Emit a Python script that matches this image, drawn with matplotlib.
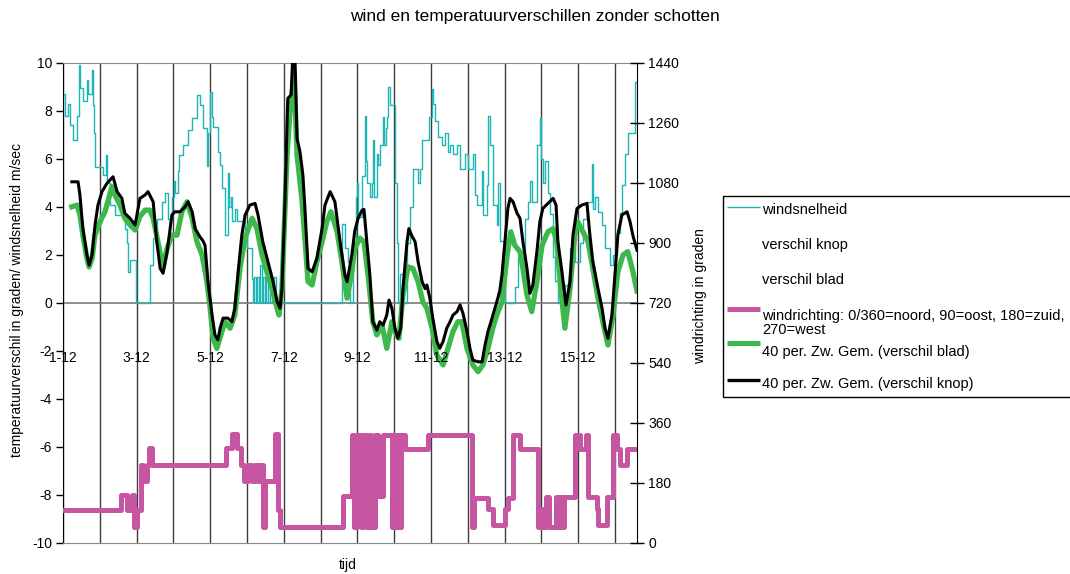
import matplotlib
matplotlib.use('Agg')
import matplotlib.pyplot as plt
from matplotlib.patches import Rectangle

plt.rcParams['font.family'] = ['Liberation Sans', 'DejaVu Sans']
plt.rcParams['axes.unicode_minus'] = False

# time in days since 1-12 00:00
wind_t = [0.00, 0.05, 0.14, 0.19, 0.27, 0.38, 0.43, 0.46, 0.54, 0.65, 0.68, 0.79, 0.82, 0.84, 0.87,
          1.09, 1.17, 1.20, 1.28, 1.41, 1.68, 1.74, 1.77, 1.82, 1.98, 2.36, 2.45, 2.55, 2.69, 2.77,
          2.85, 2.96, 3.02, 3.04, 3.13, 3.15, 3.26, 3.40, 3.51, 3.64, 3.72, 3.80, 3.91, 3.94, 3.99,
          4.05, 4.08, 4.21, 4.27, 4.32, 4.40, 4.48, 4.51, 4.57, 4.59, 4.67, 4.73, 4.95, 5.00, 5.14,
          5.16, 5.19, 5.24, 5.27, 5.33, 5.35, 5.41, 5.43, 5.49, 5.52, 5.57, 5.63, 5.68, 5.73, 5.79,
          7.58, 7.66, 7.74, 7.80, 7.88, 7.96, 7.99, 8.02, 8.12, 8.21, 8.23, 8.26, 8.34, 8.40, 8.42,
          8.45, 8.53, 8.56, 8.61, 8.70, 8.72, 8.78, 8.80, 8.83, 8.89, 9.02, 9.08, 9.10, 9.16, 9.24,
          9.35, 9.43, 9.51, 9.65, 9.70, 9.76, 9.95, 10.03, 10.05, 10.11, 10.19, 10.30, 10.38, 10.46,
          10.52, 10.60, 10.71, 10.79, 10.92, 11.01, 11.14, 11.20, 11.25, 11.39, 11.41, 11.52, 11.55,
          11.60, 11.68, 11.79, 11.82, 11.87, 12.01, 12.28, 12.36, 12.55, 12.64, 12.69, 12.74, 12.88,
          12.96, 12.99, 13.04, 13.10, 13.18, 13.23, 13.32, 13.37, 13.45, 13.64, 13.78, 13.91, 14.05,
          14.13, 14.24, 14.38, 14.40, 14.46, 14.54, 14.65, 14.73, 14.86, 14.95, 15.05, 15.14, 15.19,
          15.27, 15.35, 15.46, 15.54, 15.60]
wind_speed = [8.7, 7.8, 8.3, 7.4, 6.8, 7.8, 9.9, 8.95, 8.4, 9.3, 8.7, 9.7, 8.25, 7.1, 5.67,
              5.33, 6.17, 5.0, 4.08, 3.67, 3.1, 2.5, 1.3, 1.8, 0.0, 1.6, 2.7, 3.5, 4.2, 4.6,
              3.5, 4.4, 5.1, 4.6, 5.5, 6.17, 6.6, 7.2, 7.7, 8.67, 8.25, 7.3, 5.7, 7.1, 8.8,
              7.75, 7.33, 6.3, 5.75, 4.8, 2.83, 5.4, 4.0, 4.4, 3.4, 3.9, 3.4, 2.8, 2.3, 1.0,
              0.0, 1.1, 0.0, 1.1, 0.0, 1.6, 0.0, 1.1, 0.0, 1.1, 0.0, 1.1, 0.0, 1.1, 0.0,
              3.3, 2.3, 1.7, 0.0, 2.5, 4.4, 5.0, 3.6, 5.3, 7.8, 5.9, 5.0, 4.4, 5.0, 6.8,
              4.4, 6.2, 5.75, 6.6, 7.75, 6.6, 7.3, 7.75, 9.0, 8.25, 5.0, 2.5, 0.0, 1.2, 0.0,
              2.5, 4.0, 5.6, 5.0, 5.6, 6.8, 7.75, 8.9, 8.3, 7.6, 6.9, 6.6, 7.1, 6.3,
              6.6, 6.2, 6.6, 5.6, 6.2, 5.6, 6.2, 4.5, 4.1, 5.5, 3.67, 4.9, 7.8,
              6.6, 4.1, 3.25, 5.0, 2.6, 0.0, 0.67, 1.9, 3.5, 4.2, 5.1, 4.2, 6.6,
              7.7, 6.0, 5.0, 5.9, 4.6, 3.7, 1.9, 0.9, 0.0, 0.75, 2.3, 1.7, 2.5,
              3.5, 4.2, 5.8, 3.9, 4.4, 3.8, 3.25, 2.3, 1.6, 2.0, 2.9, 3.75, 4.9,
              6.2, 7.1, 7.1, 9.2, 9.2]

dir_t = [0.00, 1.58, 1.74, 1.88, 1.93, 2.01, 2.12, 2.17, 2.28, 2.34, 2.42, 4.43, 4.59, 4.73,
         4.84, 4.92, 5.03, 5.14, 5.22, 5.30, 5.35, 5.43, 5.49, 5.76, 5.84, 5.90, 7.61, 7.85,
         7.91, 7.99, 8.10, 8.15, 8.23, 8.32, 8.37, 8.48, 8.56, 8.70, 8.94, 8.99, 9.05, 9.10,
         9.16, 9.18, 9.29, 9.92, 11.11, 11.17, 11.55, 11.68, 12.01, 12.09, 12.23, 12.42, 12.91,
         12.99, 13.04, 13.13, 13.21, 13.40, 13.45, 13.51, 13.56, 13.61, 13.91, 14.05, 14.21,
         14.27, 14.51, 14.54, 14.78, 14.95, 15.05, 15.14, 15.33, 15.60]
wind_dir = [100, 144, 100, 144, 48, 100, 234, 186, 234, 285, 234, 285, 327, 285,
            234, 186, 234, 186, 234, 186, 234, 48, 186, 327, 100, 48, 141, 324,
            48, 324, 48, 324, 48, 324, 48, 324, 141, 324, 48, 324, 48, 324,
            48, 324, 282, 324, 48, 135, 102, 54, 102, 135, 324, 282, 48,
            102, 48, 138, 48, 138, 48, 138, 48, 138, 324, 282, 324,
            138, 102, 54, 138, 324, 282, 234, 282, 282]

knop_t = [0.24, 0.41, 0.46, 0.54, 0.65, 0.71, 0.79, 0.87, 0.95, 1.06, 1.20, 1.36, 1.47, 1.60,
          1.68, 1.82, 1.96, 2.09, 2.23, 2.31, 2.45, 2.55, 2.64, 2.72, 2.83, 2.96, 3.04, 3.18,
          3.32, 3.40, 3.51, 3.59, 3.72, 3.80, 3.86, 3.94, 4.05, 4.13, 4.21, 4.27, 4.35, 4.48,
          4.59, 4.67, 4.76, 4.86, 4.95, 5.08, 5.22, 5.30, 5.43, 5.57, 5.71, 5.82, 5.90, 5.95,
          6.03, 6.09, 6.11, 6.20, 6.25, 6.30, 6.36, 6.44, 6.52, 6.58, 6.66, 6.77, 6.90, 7.04,
          7.12, 7.26, 7.39, 7.53, 7.66, 7.72, 7.85, 7.93, 8.02, 8.13, 8.18, 8.26, 8.34, 8.42,
          8.53, 8.61, 8.70, 8.80, 8.86, 8.94, 9.02, 9.10, 9.18, 9.24, 9.35, 9.40, 9.48, 9.57,
          9.65, 9.76, 9.84, 9.89, 9.97, 10.05, 10.16, 10.24, 10.33, 10.43, 10.52, 10.60, 10.71,
          10.79, 10.87, 10.98, 11.06, 11.14, 11.28, 11.39, 11.47, 11.55, 11.66, 11.79, 11.87,
          11.93, 12.01, 12.09, 12.15, 12.23, 12.34, 12.42, 12.50, 12.61, 12.69, 12.77, 12.88,
          12.96, 13.04, 13.18, 13.32, 13.40, 13.45, 13.56, 13.67, 13.78, 13.86, 13.97, 14.10,
          14.24, 14.32, 14.40, 14.54, 14.65, 14.73, 14.81, 14.92, 15.00, 15.08, 15.19, 15.33,
          15.41, 15.49, 15.60]
knop_avg = [5.05, 5.05, 4.5, 3.1, 2.0, 1.58, 2.0, 3.25, 4.08, 4.64, 5.0, 5.26, 4.64, 4.36,
            3.74, 3.53, 3.25, 4.36, 4.5, 4.64, 4.22, 2.55, 1.44, 1.24, 2.14, 3.67, 3.8, 3.8,
            4.01, 4.22, 3.8, 3.1, 2.76, 2.6, 2.4, 0.89, -0.5, -1.33, -1.54, -1.05, -0.63, -0.63,
            -0.78, -0.22, 1.3, 2.83, 3.67, 4.08, 4.15, 3.67, 2.55, 1.72, 0.89, 0.05, -0.22, 0.6,
            4.08, 7.55, 8.53, 8.67, 10.5, 10.5, 6.86, 6.3, 5.33, 3.8, 1.44, 1.3, 1.86, 3.1,
            4.08, 4.64, 4.22, 2.55, 1.17, 0.89, 2.0, 3.0, 3.53, 3.87, 3.9, 2.5, 1.17, -0.78,
            -1.13, -0.78, -0.92, -0.5, 0.12, -0.22, -1.05, -1.47, -1.05, 0.6, 2.55, 3.1, 2.8, 2.55,
            1.72, 0.89, 0.6, 0.75, 0.2, -0.63, -1.6, -1.89, -1.6, -1.05, -0.78, -0.5, -0.36,
            -0.08, -0.43, -1.19, -1.89, -2.38, -2.45, -2.45, -1.75, -1.19, -0.63, 0.05, 0.5,
            1.17, 2.55, 3.94, 4.36, 4.22, 3.74, 3.53, 2.55, 1.44, 0.4, 0.75, 2.14,
            3.39, 3.94, 4.15, 4.36, 4.08, 2.55, 1.3, -0.08, 0.89, 2.83, 3.94, 4.08,
            4.15, 2.83, 1.72, 0.6, -0.22, -1.05, -1.47, -0.5, 1.17, 2.83, 3.67, 3.8,
            3.39, 2.8, 2.2]

blad_t = [0.24, 0.38, 0.46, 0.54, 0.65, 0.71, 0.79, 0.87, 1.01, 1.14, 1.33, 1.41, 1.55, 1.68,
          1.82, 1.96, 2.09, 2.23, 2.36, 2.45, 2.58, 2.72, 2.83, 2.96, 3.10, 3.23, 3.37, 3.51,
          3.64, 3.78, 3.91, 3.99, 4.08, 4.18, 4.32, 4.40, 4.54, 4.67, 4.81, 4.95, 5.14, 5.27,
          5.41, 5.54, 5.68, 5.82, 5.87, 5.95, 6.09, 6.17, 6.22, 6.28, 6.36, 6.49, 6.58, 6.66,
          6.77, 6.90, 7.04, 7.17, 7.28, 7.45, 7.58, 7.72, 7.85, 7.93, 8.07, 8.18, 8.29, 8.42,
          8.53, 8.67, 8.80, 8.94, 9.02, 9.13, 9.24, 9.38, 9.51, 9.65, 9.78, 9.89, 10.03, 10.16,
          10.33, 10.46, 10.60, 10.73, 10.84, 10.98, 11.14, 11.28, 11.41, 11.55, 11.68, 11.79,
          11.93, 12.07, 12.17, 12.28, 12.42, 12.50, 12.61, 12.74, 12.88, 13.02, 13.18, 13.32,
          13.42, 13.51, 13.64, 13.78, 13.91, 13.99, 14.13, 14.27, 14.40, 14.54, 14.67, 14.81,
          14.95, 15.08, 15.22, 15.35, 15.49, 15.60]
blad_avg = [4.01, 4.08, 3.67, 2.83, 1.86, 1.5, 1.86, 2.83, 3.39, 3.8, 4.85, 4.5, 4.08, 3.53,
            3.25, 3.04, 3.6, 3.87, 3.87, 3.53, 2.55, 1.5, 2.28, 2.83, 2.83, 3.8, 4.22, 3.53,
            2.55, 2.0, 0.89, -0.08, -1.47, -1.89, -1.19, -0.78, -1.05, -0.5, 1.44, 2.7, 3.53, 3.1,
            2.0, 1.3, 0.6, -0.22, -0.5, 0.6, 6.17, 7.97, 8.67, 9.5, 6.17, 4.36, 2.55, 0.89,
            0.75, 1.72, 2.55, 3.39, 3.8, 2.97, 1.72, 0.2, 1.3, 2.28, 2.7, 2.55, 1.17, -0.78,
            -1.33, -0.92, -1.89, -0.78, -1.19, -1.47, 0.33, 1.5, 1.44, 0.89, 0.05, -0.22, -1.05, -2.17,
            -2.58, -1.89, -1.19, -0.78, -0.78, -1.89, -2.58, -2.86, -2.58, -1.89, -1.05, -0.5,
            0.05, 2.0, 2.97, 2.4, 2.14, 1.44, 0.33, -0.36, 0.89, 2.4, 2.97, 3.1,
            2.55, 0.89, -1.05, 0.6, 2.83, 3.39, 2.97, 2.55, 1.44, 0.2, -0.78, -1.75,
            -0.5, 1.3, 2.0, 2.14, 1.3, 0.5]

label_days = [0, 2, 4, 6, 8, 10, 12, 14]
day_labels = ['1-12', '3-12', '5-12', '7-12', '9-12', '11-12', '13-12', '15-12']

legend_labels = ['windsnelheid', 'verschil knop', 'verschil blad',
                 'windrichting: 0/360=noord, 90=oost, 180=zuid,\n270=west',
                 '40 per. Zw. Gem. (verschil blad)', '40 per. Zw. Gem. (verschil knop)']

c_wind = '#1db6b6'
c_dir = '#c656a1'
c_blad = '#3db84b'
c_knop = 'black'

W, H = 1070, 574
fig = plt.figure(figsize=(W / 100, H / 100), dpi=100)
ax = fig.add_axes([63 / W, 31 / H, 574 / W, 480 / H])

for d in range(16):
    ax.axvline(d, color='#3c3c3c', lw=1.0, zorder=1)
ax.axhline(0, color='#7a7a7a', lw=1.2, zorder=1)

ax.step(wind_t, wind_speed, where='post', color=c_wind, lw=1.0, zorder=2)
ax.plot(blad_t, blad_avg, color=c_blad, lw=3.8, zorder=3, solid_joinstyle='round')
ax.plot(knop_t, knop_avg, color=c_knop, lw=2.2, zorder=4, solid_joinstyle='round')

for d, lab in zip(label_days, day_labels):
    ax.text(d, -2.3, lab, ha='center', va='center', fontsize=10, zorder=5)

ax.set_xlim(0, 15.6)
ax.set_ylim(-10, 10)
ax.set_yticks(range(-10, 11, 2))
ax.set_xticks([])
ax.tick_params(axis='y', direction='out', length=5, width=1, labelsize=10, pad=3)
ax.spines['top'].set_color('#8a8a8a')
ax.spines['bottom'].set_color('#8a8a8a')
ax.spines['right'].set_visible(False)

ax2 = ax.twinx()
ax2.step(dir_t, wind_dir, where='post', color=c_dir, lw=3.6)
ax2.set_ylim(0, 1440)
ax2.set_yticks(range(0, 1441, 180))
ax2.tick_params(axis='y', direction='inout', length=10, width=1, labelsize=10, pad=3)
for s in ['top', 'bottom', 'left']:
    ax2.spines[s].set_visible(False)

fig.text(535 / W, 1 - 17 / H, 'wind en temperatuurverschillen zonder schotten',
         ha='center', va='center', fontsize=12.5)
fig.text(17 / W, 1 - 300 / H, 'temperatuurverschil in graden/ windsnelheid m/sec',
         rotation=90, ha='center', va='center', fontsize=10)
fig.text(700 / W, 1 - 296 / H, 'windrichting in graden',
         rotation=90, ha='center', va='center', fontsize=10)
fig.text(348 / W, 1 - 565 / H, 'tijd', ha='center', va='center', fontsize=10)

# legend drawn in pixel coordinates
lg = fig.add_axes([0, 0, 1, 1])
lg.set_xlim(0, W)
lg.set_ylim(H, 0)
lg.axis('off')
lg.add_patch(Rectangle((723, 196), 370, 201, fill=False, edgecolor='black', lw=1))
line_y = [207, None, None, 309, 343, 380]
text_y = [210, 245, 280, 323, 352, 384]
line_style = [(c_wind, 1.0), None, None, (c_dir, 3.6), (c_blad, 3.6), (c_knop, 2.4)]
for ly, ty, st, lab in zip(line_y, text_y, line_style, legend_labels):
    if st is not None:
        lg.plot([727, 760], [ly, ly], color=st[0], lw=st[1], solid_capstyle='butt')
    lg.text(762, ty, lab, ha='left', va='center', fontsize=10.5, linespacing=1.05)

fig.savefig('out.png', dpi=100)
